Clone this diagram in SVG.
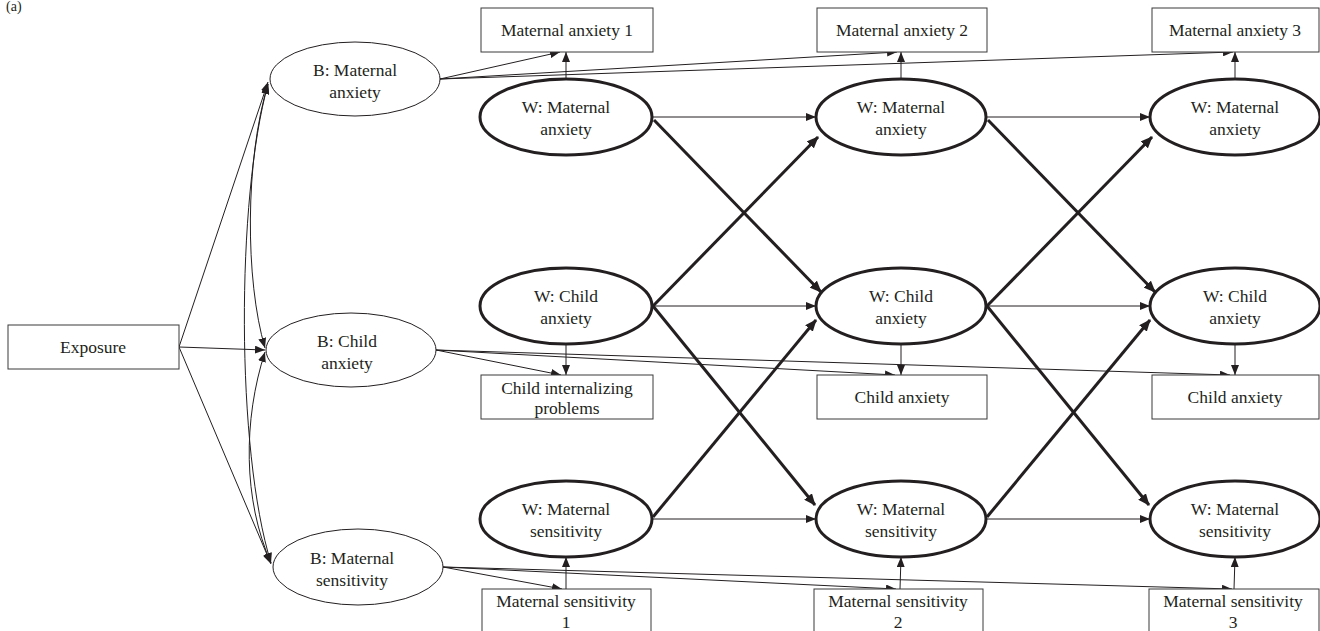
<svg xmlns="http://www.w3.org/2000/svg" width="1320" height="631" viewBox="0 0 1320 631">
<defs>
<style>
text{font-family:"Liberation Serif","Times New Roman",serif;font-size:17.5px;fill:#231f20;text-anchor:middle}
.box{fill:#fff;stroke:#3a3a3a;stroke-width:1}
.bell{fill:#fff;stroke:#231f20;stroke-width:1}
.well{fill:#fff;stroke:#231f20;stroke-width:3}
.thin{fill:none;stroke:#231f20;stroke-width:1;marker-end:url(#ah)}
.thick{fill:none;stroke:#231f20;stroke-width:3;marker-end:url(#ahb)}
.cov{fill:none;stroke:#231f20;stroke-width:1;marker-start:url(#ah);marker-end:url(#ah)}
</style>
<marker id="ah" markerUnits="userSpaceOnUse" markerWidth="10" markerHeight="8" refX="10" refY="4" orient="auto-start-reverse"><path d="M0,0 L10,4 L0,8 z" fill="#231f20"/></marker>
<marker id="ahb" markerUnits="userSpaceOnUse" markerWidth="12" markerHeight="10" refX="11" refY="5" orient="auto"><path d="M0,0 L12,5 L0,10 z" fill="#231f20"/></marker>
</defs>
<text x="6" y="11" style="text-anchor:start;font-size:14px">(a)</text>
<g id="connectors">
<line class="thin" x1="179" y1="347" x2="268" y2="82"/>
<line class="thin" x1="179" y1="347" x2="265" y2="350"/>
<line class="thin" x1="179" y1="347" x2="271" y2="564"/>
<path class="cov" d="M268,84 C245,160 245,280 265,348"/>
<path class="cov" d="M265,352 C243,420 243,500 271,563"/>
<path class="cov" d="M268,84 C236,200 236,450 271,563"/>
<line class="thin" x1="440" y1="79" x2="560" y2="52"/>
<line class="thin" x1="440" y1="79" x2="897" y2="52"/>
<line class="thin" x1="440" y1="79" x2="1233" y2="52"/>
<line class="thin" x1="436" y1="350" x2="561" y2="375"/>
<line class="thin" x1="436" y1="350" x2="895" y2="375"/>
<line class="thin" x1="436" y1="350" x2="1230" y2="375"/>
<line class="thin" x1="443" y1="567" x2="562" y2="589"/>
<line class="thin" x1="443" y1="567" x2="896" y2="589"/>
<line class="thin" x1="443" y1="567" x2="1232" y2="589"/>
<line class="thin" x1="566" y1="79" x2="566" y2="52"/>
<line class="thin" x1="901" y1="79" x2="901" y2="52"/>
<line class="thin" x1="1235" y1="79" x2="1235" y2="52"/>
<line class="thin" x1="566" y1="344" x2="566" y2="375"/>
<line class="thin" x1="901" y1="344" x2="901" y2="375"/>
<line class="thin" x1="1235" y1="344" x2="1235" y2="375"/>
<line class="thin" x1="566" y1="589" x2="566" y2="557"/>
<line class="thin" x1="900" y1="589" x2="901" y2="557"/>
<line class="thin" x1="1234" y1="589" x2="1235" y2="557"/>
<line class="thin" x1="653" y1="117" x2="816" y2="117"/>
<line class="thin" x1="986" y1="117" x2="1150" y2="117"/>
<line class="thin" x1="653" y1="306" x2="816" y2="306"/>
<line class="thin" x1="986" y1="306" x2="1150" y2="306"/>
<line class="thin" x1="653" y1="519" x2="816" y2="519"/>
<line class="thin" x1="986" y1="519" x2="1150" y2="519"/>
<line class="thick" x1="654" y1="120" x2="821" y2="292"/>
<line class="thick" x1="653" y1="306" x2="818" y2="137"/>
<line class="thick" x1="653" y1="306" x2="815" y2="505"/>
<line class="thick" x1="653" y1="517" x2="816" y2="320"/>
<line class="thick" x1="988" y1="120" x2="1155" y2="292"/>
<line class="thick" x1="987" y1="306" x2="1152" y2="137"/>
<line class="thick" x1="987" y1="306" x2="1149" y2="505"/>
<line class="thick" x1="987" y1="517" x2="1150" y2="320"/>
</g>
<g id="exposure"><rect class="box" x="8" y="325" width="171" height="44"/><text x="93" y="353">Exposure</text></g>
<g id="b-maternal-anxiety"><ellipse class="bell" cx="355" cy="79" rx="85" ry="37"/><text x="355" y="76">B: Maternal</text><text x="355" y="98">anxiety</text></g>
<g id="b-child-anxiety"><ellipse class="bell" cx="351" cy="350" rx="85" ry="37"/><text x="347" y="347">B: Child</text><text x="347" y="369">anxiety</text></g>
<g id="b-maternal-sensitivity"><ellipse class="bell" cx="358" cy="567" rx="85" ry="38"/><text x="352" y="564">B: Maternal</text><text x="352" y="586">sensitivity</text></g>
<g id="ma1"><rect class="box" x="481" y="8" width="172" height="44"/><text x="567" y="36">Maternal anxiety 1</text></g>
<g id="ma2"><rect class="box" x="817" y="8" width="170" height="44"/><text x="902" y="36">Maternal anxiety 2</text></g>
<g id="ma3"><rect class="box" x="1152" y="8" width="167" height="44"/><text x="1235" y="36">Maternal anxiety 3</text></g>
<g id="w-ma1"><ellipse class="well" cx="566" cy="117" rx="86" ry="38"/><text x="566" y="113">W: Maternal</text><text x="566" y="135">anxiety</text></g>
<g id="w-ma2"><ellipse class="well" cx="901" cy="117" rx="85" ry="38"/><text x="901" y="113">W: Maternal</text><text x="901" y="135">anxiety</text></g>
<g id="w-ma3"><ellipse class="well" cx="1235" cy="117" rx="85" ry="38"/><text x="1235" y="113">W: Maternal</text><text x="1235" y="135">anxiety</text></g>
<g id="w-ca1"><ellipse class="well" cx="566" cy="306" rx="86" ry="38"/><text x="566" y="302">W: Child</text><text x="566" y="324">anxiety</text></g>
<g id="w-ca2"><ellipse class="well" cx="901" cy="306" rx="85" ry="38"/><text x="901" y="302">W: Child</text><text x="901" y="324">anxiety</text></g>
<g id="w-ca3"><ellipse class="well" cx="1235" cy="306" rx="85" ry="38"/><text x="1235" y="302">W: Child</text><text x="1235" y="324">anxiety</text></g>
<g id="cip"><rect class="box" x="481" y="375" width="172" height="44"/><text x="567" y="394">Child internalizing</text><text x="567" y="414">problems</text></g>
<g id="ca2"><rect class="box" x="817" y="375" width="170" height="44"/><text x="902" y="403">Child anxiety</text></g>
<g id="ca3"><rect class="box" x="1152" y="375" width="167" height="44"/><text x="1235" y="403">Child anxiety</text></g>
<g id="w-ms1"><ellipse class="well" cx="566" cy="519" rx="86" ry="38"/><text x="566" y="515">W: Maternal</text><text x="566" y="537">sensitivity</text></g>
<g id="w-ms2"><ellipse class="well" cx="901" cy="519" rx="85" ry="38"/><text x="901" y="515">W: Maternal</text><text x="901" y="537">sensitivity</text></g>
<g id="w-ms3"><ellipse class="well" cx="1235" cy="519" rx="85" ry="38"/><text x="1235" y="515">W: Maternal</text><text x="1235" y="537">sensitivity</text></g>
<g id="ms1"><rect class="box" x="482" y="589" width="169" height="50"/><text x="566" y="607">Maternal sensitivity</text><text x="566" y="628">1</text></g>
<g id="ms2"><rect class="box" x="814" y="589" width="169" height="50"/><text x="898" y="607">Maternal sensitivity</text><text x="898" y="628">2</text></g>
<g id="ms3"><rect class="box" x="1149" y="589" width="170" height="50"/><text x="1233" y="607">Maternal sensitivity</text><text x="1233" y="628">3</text></g>
</svg>
